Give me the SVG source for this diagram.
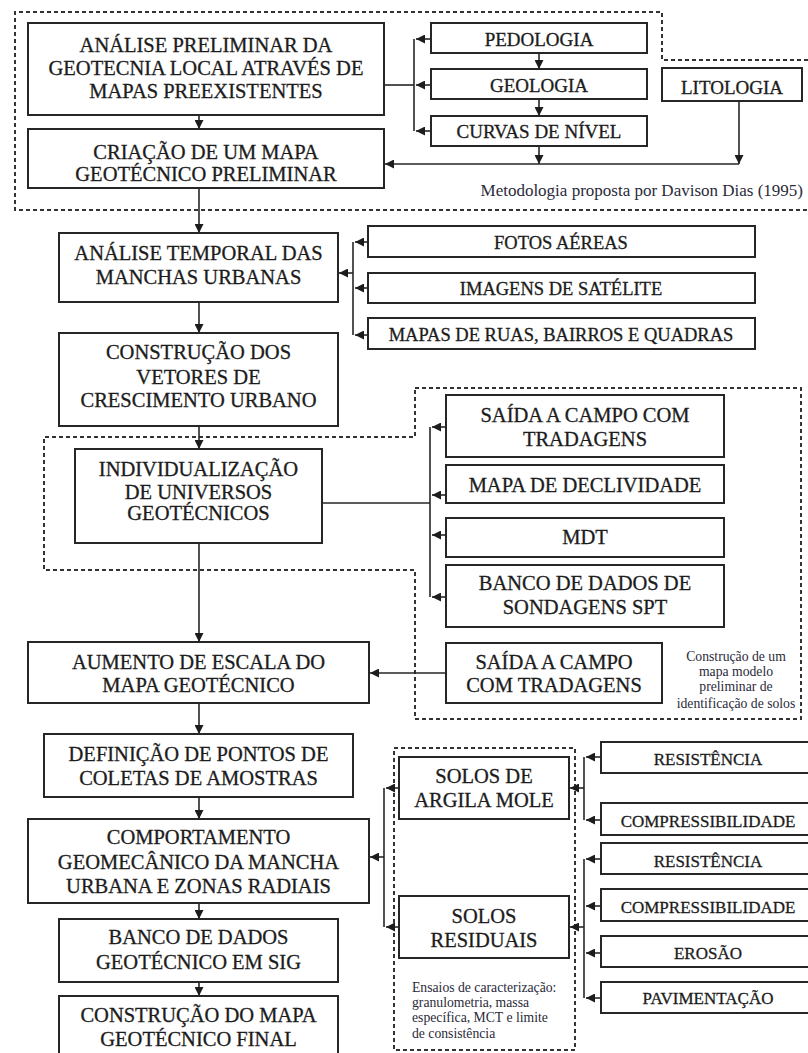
<svg xmlns="http://www.w3.org/2000/svg" width="808" height="1053" viewBox="0 0 808 1053" font-family="Liberation Serif, Times New Roman, Tinos, serif">
  <style>
    .box { fill: #ffffff; stroke: #262626; stroke-width: 2; }
    .t { fill: #1c1c1c; stroke: #1c1c1c; stroke-width: 0.3; text-anchor: middle; }
    .big { font-size: 20.5px; }
    .mid { font-size: 19px; }
    .sm { font-size: 18.5px; }
    .xs { font-size: 17px; }
    .note { fill: #2a2a3a; font-size: 13.7px; }
    .meta { font-size: 17px; text-anchor: end; }
    .mid-anchor { text-anchor: middle; }
    .dash { fill: none; stroke: #333333; stroke-width: 2; stroke-dasharray: 4 3; }
    .wire { fill: none; stroke: #262626; stroke-width: 1.6; }
    .arr { marker-end: url(#ah); }
  </style>
  <defs>
    <marker id="ah" viewBox="0 0 9 9" refX="9" refY="4.5" markerWidth="9" markerHeight="9" markerUnits="userSpaceOnUse" orient="auto">
      <path d="M0,0 L9,4.5 L0,9 z" fill="#1c1c1c"/>
    </marker>
  </defs>
  <rect width="808" height="1053" fill="#ffffff"/>

  <!-- dashed groupings -->
  <g id="groups">
    <path class="dash" d="M808 60 H662 V12 H15 V210 H808"/>
    <path class="dash" d="M415 388 H801 V719 H415 V570 H44 V437 H415 Z"/>
    <rect class="dash" x="394" y="748" width="181" height="302"/>
  </g>

  <!-- connectors -->
  <g id="connectors">
    <!-- main spine -->
    <line class="wire arr" x1="199" y1="115" x2="199" y2="129"/>
    <line class="wire arr" x1="199" y1="188" x2="199" y2="233"/>
    <line class="wire arr" x1="199" y1="302" x2="199" y2="333"/>
    <line class="wire arr" x1="199" y1="426" x2="199" y2="449"/>
    <line class="wire arr" x1="199" y1="543" x2="199" y2="642"/>
    <line class="wire arr" x1="199" y1="703" x2="199" y2="734"/>
    <line class="wire arr" x1="199" y1="797" x2="199" y2="819"/>
    <line class="wire arr" x1="199" y1="903" x2="199" y2="919"/>
    <line class="wire arr" x1="199" y1="982" x2="199" y2="996"/>

    <!-- existing maps -->
    <line class="wire" x1="384" y1="85" x2="414" y2="85" stroke-width="2.2"/>
    <line class="wire" x1="414" y1="39" x2="414" y2="131"/>
    <line class="wire arr" x1="431" y1="39" x2="416" y2="39"/>
    <line class="wire arr" x1="431" y1="85" x2="416" y2="85"/>
    <line class="wire arr" x1="431" y1="131" x2="416" y2="131"/>
    <line class="wire arr" x1="539" y1="53" x2="539" y2="69"/>
    <line class="wire arr" x1="539" y1="99" x2="539" y2="116"/>
    <line class="wire arr" x1="539" y1="146" x2="539" y2="164"/>
    <line class="wire arr" x1="739" y1="101" x2="739" y2="164"/>
    <line class="wire arr" x1="739" y1="164" x2="385" y2="164"/>

    <!-- temporal analysis sources -->
    <line class="wire" x1="353" y1="242" x2="353" y2="335"/>
    <line class="wire arr" x1="368" y1="242" x2="355" y2="242"/>
    <line class="wire arr" x1="368" y1="288" x2="355" y2="288"/>
    <line class="wire arr" x1="368" y1="335" x2="355" y2="335"/>
    <line class="wire arr" x1="353" y1="273" x2="339" y2="273"/>

    <!-- geotechnical universes inputs -->
    <line class="wire" x1="322" y1="503" x2="430" y2="503"/>
    <line class="wire" x1="430" y1="427" x2="430" y2="597"/>
    <line class="wire arr" x1="446" y1="427" x2="432" y2="427"/>
    <line class="wire arr" x1="446" y1="495" x2="432" y2="495"/>
    <line class="wire arr" x1="446" y1="535" x2="432" y2="535"/>
    <line class="wire arr" x1="446" y1="597" x2="432" y2="597"/>
    <line class="wire arr" x1="446" y1="673" x2="370" y2="673"/>

    <!-- soil behaviour -->
    <line class="wire" x1="384" y1="788" x2="384" y2="927"/>
    <line class="wire arr" x1="399" y1="788" x2="386" y2="788"/>
    <line class="wire arr" x1="399" y1="927" x2="386" y2="927"/>
    <line class="wire arr" x1="384" y1="857" x2="370" y2="857"/>

    <line class="wire" x1="584" y1="757" x2="584" y2="820"/>
    <line class="wire arr" x1="584" y1="788" x2="570" y2="788"/>
    <line class="wire arr" x1="601" y1="757" x2="586" y2="757"/>
    <line class="wire arr" x1="601" y1="820" x2="586" y2="820"/>

    <line class="wire" x1="584" y1="859" x2="584" y2="998"/>
    <line class="wire arr" x1="584" y1="927" x2="570" y2="927"/>
    <line class="wire arr" x1="601" y1="859" x2="586" y2="859"/>
    <line class="wire arr" x1="601" y1="906" x2="586" y2="906"/>
    <line class="wire arr" x1="601" y1="953" x2="586" y2="953"/>
    <line class="wire arr" x1="601" y1="998" x2="586" y2="998"/>
  </g>

  <!-- main flow -->
  <g id="analise-preliminar">
    <rect class="box" x="28" y="23" width="356" height="92"/>
    <text class="t big" x="206" y="52">ANÁLISE PRELIMINAR DA</text>
    <text class="t big" x="206" y="75">GEOTECNIA LOCAL ATRAVÉS DE</text>
    <text class="t big" x="206" y="98">MAPAS PREEXISTENTES</text>
  </g>
  <g id="mapa-preliminar">
    <rect class="box" x="28" y="129" width="356" height="59"/>
    <text class="t big" x="206" y="159">CRIAÇÃO DE UM MAPA</text>
    <text class="t big" x="206" y="181">GEOTÉCNICO PRELIMINAR</text>
  </g>
  <g id="analise-temporal">
    <rect class="box" x="59" y="233" width="279" height="69"/>
    <text class="t big" x="198.5" y="260">ANÁLISE TEMPORAL DAS</text>
    <text class="t big" x="198.5" y="284">MANCHAS URBANAS</text>
  </g>
  <g id="vetores">
    <rect class="box" x="59" y="333" width="279" height="93"/>
    <text class="t big" x="198.5" y="359">CONSTRUÇÃO DOS</text>
    <text class="t big" x="198.5" y="384">VETORES DE</text>
    <text class="t big" x="198.5" y="407">CRESCIMENTO URBANO</text>
  </g>
  <g id="universos">
    <rect class="box" x="75" y="449" width="247" height="94"/>
    <text class="t big" x="198.5" y="476">INDIVIDUALIZAÇÃO</text>
    <text class="t big" x="198.5" y="499">DE UNIVERSOS</text>
    <text class="t big" x="198.5" y="520">GEOTÉCNICOS</text>
  </g>
  <g id="aumento-escala">
    <rect class="box" x="28" y="642" width="341" height="61"/>
    <text class="t big" x="198.5" y="669">AUMENTO DE ESCALA DO</text>
    <text class="t big" x="198.5" y="692">MAPA GEOTÉCNICO</text>
  </g>
  <g id="pontos-coleta">
    <rect class="box" x="44" y="734" width="309" height="63"/>
    <text class="t big" x="198.5" y="761">DEFINIÇÃO DE PONTOS DE</text>
    <text class="t big" x="198.5" y="785">COLETAS DE AMOSTRAS</text>
  </g>
  <g id="comportamento">
    <rect class="box" x="28" y="819" width="341" height="84"/>
    <text class="t big" x="198.5" y="844">COMPORTAMENTO</text>
    <text class="t big" x="198.5" y="869">GEOMECÂNICO DA MANCHA</text>
    <text class="t big" x="198.5" y="893">URBANA E ZONAS RADIAIS</text>
  </g>
  <g id="banco-sig">
    <rect class="box" x="59" y="919" width="279" height="63"/>
    <text class="t big" x="198.5" y="944">BANCO DE DADOS</text>
    <text class="t big" x="198.5" y="969">GEOTÉCNICO EM SIG</text>
  </g>
  <g id="mapa-final">
    <rect class="box" x="59" y="996" width="279" height="64"/>
    <text class="t big" x="198.5" y="1022">CONSTRUÇÃO DO MAPA</text>
    <text class="t big" x="198.5" y="1046">GEOTÉCNICO FINAL</text>
  </g>

  <!-- existing maps -->
  <g id="pedologia">
    <rect class="box" x="431" y="23" width="216" height="30"/>
    <text class="t mid" x="539" y="45.5">PEDOLOGIA</text>
  </g>
  <g id="geologia">
    <rect class="box" x="431" y="69" width="216" height="30"/>
    <text class="t mid" x="539" y="92">GEOLOGIA</text>
  </g>
  <g id="curvas">
    <rect class="box" x="431" y="116" width="216" height="30"/>
    <text class="t mid" x="539" y="138">CURVAS DE NÍVEL</text>
  </g>
  <g id="litologia">
    <rect class="box" x="662" y="68" width="140" height="33"/>
    <text class="t mid" x="732" y="94">LITOLOGIA</text>
  </g>
  <g id="nota-metodologia">
    <text class="note meta" x="803" y="196">Metodologia proposta por Davison Dias (1995)</text>
  </g>

  <!-- temporal sources -->
  <g id="fotos">
    <rect class="box" x="368" y="226" width="387" height="31"/>
    <text class="t sm" x="561" y="248.5">FOTOS AÉREAS</text>
  </g>
  <g id="imagens">
    <rect class="box" x="368" y="273" width="387" height="30"/>
    <text class="t sm" x="561" y="294.5">IMAGENS DE SATÉLITE</text>
  </g>
  <g id="mapas-ruas">
    <rect class="box" x="368" y="318" width="387" height="31"/>
    <text class="t sm" x="561" y="340.5">MAPAS DE RUAS, BAIRROS E QUADRAS</text>
  </g>

  <!-- universes inputs -->
  <g id="saida-campo-1">
    <rect class="box" x="446" y="395" width="278" height="62"/>
    <text class="t big" x="585" y="422">SAÍDA A CAMPO COM</text>
    <text class="t big" x="585" y="446">TRADAGENS</text>
  </g>
  <g id="declividade">
    <rect class="box" x="446" y="465" width="278" height="38"/>
    <text class="t big" x="585" y="492">MAPA DE DECLIVIDADE</text>
  </g>
  <g id="mdt">
    <rect class="box" x="446" y="518" width="278" height="39"/>
    <text class="t big" x="585" y="544">MDT</text>
  </g>
  <g id="banco-spt">
    <rect class="box" x="446" y="565" width="278" height="62"/>
    <text class="t big" x="585" y="590">BANCO DE DADOS DE</text>
    <text class="t big" x="585" y="614">SONDAGENS SPT</text>
  </g>
  <g id="saida-campo-2">
    <rect class="box" x="446" y="643" width="216" height="60"/>
    <text class="t big" x="554" y="669">SAÍDA A CAMPO</text>
    <text class="t big" x="554" y="692">COM TRADAGENS</text>
  </g>
  <g id="nota-mapa-modelo">
    <text class="note mid-anchor" x="736" y="661">Construção de um</text>
    <text class="note mid-anchor" x="736" y="676">mapa modelo</text>
    <text class="note mid-anchor" x="736" y="691">preliminar de</text>
    <text class="note mid-anchor" x="736" y="708">identificação de solos</text>
  </g>

  <!-- soil types -->
  <g id="argila-mole">
    <rect class="box" x="399" y="757" width="170" height="62"/>
    <text class="t big" x="484" y="783">SOLOS DE</text>
    <text class="t big" x="484" y="807">ARGILA MOLE</text>
  </g>
  <g id="residuais">
    <rect class="box" x="399" y="896" width="170" height="62"/>
    <text class="t big" x="484" y="923">SOLOS</text>
    <text class="t big" x="484" y="947">RESIDUAIS</text>
  </g>
  <g id="nota-ensaios">
    <text class="note" x="412" y="992">Ensaios de caracterização:</text>
    <text class="note" x="412" y="1007">granulometria, massa</text>
    <text class="note" x="412" y="1022">específica, MCT e limite</text>
    <text class="note" x="412" y="1038">de consistência</text>
  </g>

  <!-- soil properties -->
  <g id="resistencia-1">
    <rect class="box" x="601" y="742" width="214" height="31"/>
    <text class="t xs" x="708" y="765">RESISTÊNCIA</text>
  </g>
  <g id="compressibilidade-1">
    <rect class="box" x="601" y="803" width="214" height="32"/>
    <text class="t xs" x="708" y="827">COMPRESSIBILIDADE</text>
  </g>
  <g id="resistencia-2">
    <rect class="box" x="601" y="843" width="214" height="31"/>
    <text class="t xs" x="708" y="867">RESISTÊNCIA</text>
  </g>
  <g id="compressibilidade-2">
    <rect class="box" x="601" y="889" width="214" height="32"/>
    <text class="t xs" x="708" y="913">COMPRESSIBILIDADE</text>
  </g>
  <g id="erosao">
    <rect class="box" x="601" y="936" width="214" height="31"/>
    <text class="t xs" x="708" y="959">EROSÃO</text>
  </g>
  <g id="pavimentacao">
    <rect class="box" x="601" y="982" width="214" height="31"/>
    <text class="t xs" x="708" y="1004">PAVIMENTAÇÃO</text>
  </g>
</svg>
